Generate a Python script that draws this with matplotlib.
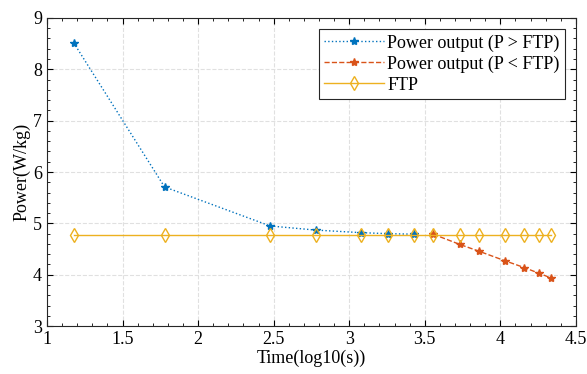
import numpy as np
import matplotlib.pyplot as plt
from matplotlib.ticker import MultipleLocator

# durées (s) -> log10
t_hi = [15, 60, 300, 600, 1200, 1800, 2700]
p_hi = [8.52, 5.71, 4.95, 4.87, 4.82, 4.80, 4.79]
t_lo = [3600, 5400, 7200, 10800, 14400, 18000, 21600]
p_lo = [4.79, 4.59, 4.46, 4.27, 4.14, 4.03, 3.94]
t_ftp = [15, 60, 300, 600, 1200, 1800, 2700, 3600, 5400, 7200, 10800, 14400, 18000, 21600]
ftp = 4.78

plt.rcParams['font.family'] = ['Liberation Serif', 'DejaVu Serif']
plt.rcParams['font.size'] = 12

fig = plt.figure(figsize=(5.87, 3.74), dpi=100)
ax = fig.add_axes([0.080, 0.128, 0.901, 0.824])

ax.plot(np.log10(t_hi), p_hi, ':', color='#0072BD', marker='*', ms=6, lw=1,
        label='Power output (P > FTP)')
ax.plot(np.log10(t_lo), p_lo, '--', color='#D95319', marker='*', ms=6, lw=1,
        label='Power output (P < FTP)')
ax.plot(np.log10(t_ftp), [ftp] * len(t_ftp), '-', color='#EDB120', marker='d',
        mfc='none', ms=7, lw=1, label='FTP')

ax.set_xlim(1, 4.5)
ax.set_ylim(3, 9)
ax.xaxis.set_major_locator(MultipleLocator(0.5))
ax.xaxis.set_minor_locator(MultipleLocator(0.1))
ax.yaxis.set_major_locator(MultipleLocator(1))
ax.yaxis.set_minor_locator(MultipleLocator(0.2))
ax.set_xticks([1, 1.5, 2, 2.5, 3, 3.5, 4, 4.5])
ax.set_xticklabels(['1', '1.5', '2', '2.5', '3', '3.5', '4', '4.5'])
ax.tick_params(which='both', direction='in', top=True, right=True, labelsize=13)
ax.tick_params(which='major', length=4)
ax.tick_params(which='minor', length=2.5)
ax.grid(True, which='major', linestyle='--', color='#e0e0e0', lw=0.8)
for s in ax.spines.values():
    s.set_color('#262626')

ax.set_xlabel('Time(log10(s))', fontsize=13, labelpad=1)
ax.set_ylabel('Power(W/kg)', fontsize=13, labelpad=2)

leg = ax.legend(loc='upper right', fontsize=13, fancybox=False, framealpha=1,
                edgecolor='#262626', borderpad=0.3, labelspacing=0.22,
                handlelength=3.3, handletextpad=0.2, borderaxespad=0.6)
leg.get_frame().set_linewidth(0.8)

fig.savefig('out.png', dpi=100)
